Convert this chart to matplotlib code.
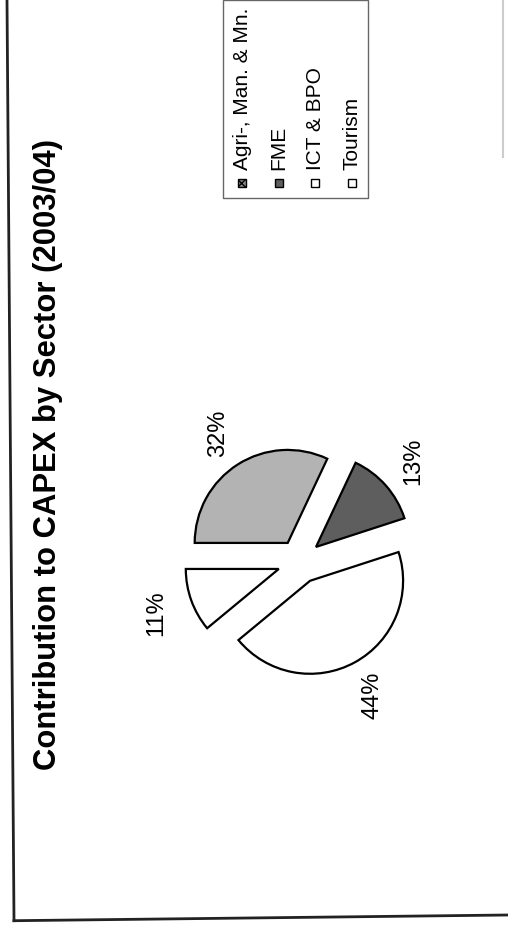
import matplotlib
matplotlib.use('Agg')
import matplotlib.pyplot as plt
from matplotlib.patches import Rectangle

plt.rcParams['font.family'] = ['Liberation Sans', 'DejaVu Sans']

# data
title = 'Contribution to CAPEX by Sector (2003/04)'
sectors = ['Agri-, Man. & Mn.', 'FME', 'ICT & BPO', 'Tourism']
shares = [32, 13, 44, 11]
colors = ['#b3b3b3', '#5e5e5e', '#ffffff', '#ffffff']
hatches = ['xxxx', '', '', '']

W, H = 508, 927
fig = plt.figure(figsize=(W / 100, H / 100), dpi=100)
ax = fig.add_axes([0, 0, 1, 1])

# page is scanned sideways, so the whole chart is turned 90 degrees
wedges, texts, autotexts = ax.pie(
    shares, colors=colors, startangle=180, counterclock=False,
    explode=[22] * len(shares), radius=93, center=(299.5, 365.5),
    autopct='%1.0f%%', pctdistance=1.4,
    wedgeprops=dict(edgecolor='black', linewidth=1.6),
    textprops=dict(fontsize=17, rotation=90))

ax.text(48, 472, title, rotation=90, ha='center', va='center',
        fontsize=22.3, fontweight='bold')

# legend drawn by hand (rotated)
ax.add_patch(Rectangle((223, 729), 145, 198, fill=False, edgecolor='#666666', lw=1))
for i, name in enumerate(sectors):
    x = 242 + i * 36.6
    ax.add_patch(Rectangle((x - 4, 740), 8, 8, facecolor=colors[i] if i != 0 else '#8a8a8a',
                           edgecolor='black', lw=1, hatch=hatches[i]))
    ax.text(x, 757, name, rotation=90, ha='center', va='bottom', fontsize=15)

# frame of the chart area
ax.plot([7, 14], [927, 6.3], color='#222222', lw=2)
ax.plot([14, 508], [6.3, 12], color='#222222', lw=2)
ax.plot([503, 503], [927, 770], color='#cccccc', lw=1.5)

ax.set_xlim(0, W)
ax.set_ylim(0, H)
ax.axis('off')

fig.savefig('out.png', dpi=100)
